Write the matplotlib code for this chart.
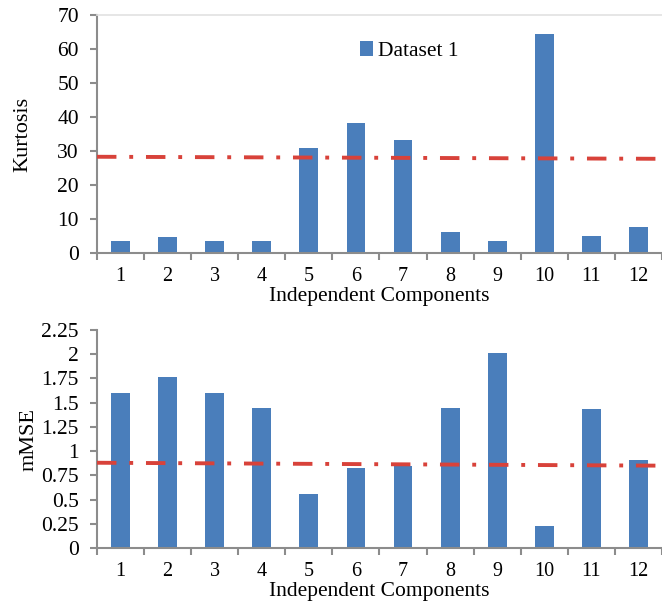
import numpy as np
import matplotlib
matplotlib.use('Agg')
from matplotlib import pyplot as plt

# ---- data ----
components = list(range(1, 13))
kurtosis = [3.5, 4.6, 3.5, 3.5, 31.0, 38.3, 33.3, 6.1, 3.5, 64.3, 5.0, 7.6]
kurt_thresh = [28.3, 27.7]       # dash-dot line, left end / right end
mmse = [1.60, 1.76, 1.60, 1.45, 0.56, 0.83, 0.85, 1.45, 2.01, 0.23, 1.44, 0.91]
mmse_thresh = [0.88, 0.85]

plt.rcParams['font.family'] = ['Liberation Serif', 'DejaVu Serif']

bar_color = '#4A7EBB'
line_color = '#D8423A'
axis_color = '#8C8C8C'

fig = plt.figure(figsize=(6.62, 6.05), dpi=100)
ax1 = fig.add_axes([0.1465, 0.5818, 0.8535, 0.3935])
ax2 = fig.add_axes([0.1465, 0.0942, 0.8535, 0.3603])

bar_index = np.arange(1, len(components) + 1)


def style_axis(ax, top_line):
    ax.set_xlim(0.5, 12.45)
    ax.set_xticks(bar_index)
    ax.set_xticklabels([str(c) for c in components], fontsize=14.5)
    ax.set_xticks(np.arange(0.5, 13.0, 1.0), minor=True)
    ax.tick_params(axis='x', which='major', length=0, pad=10)
    ax.tick_params(axis='x', which='minor', length=5, width=1.5,
                   color=axis_color, direction='out')
    ax.tick_params(axis='y', length=5, width=1.5, color=axis_color,
                   labelsize=15.5, pad=8)
    for s in ['left', 'bottom']:
        ax.spines[s].set_color(axis_color)
        ax.spines[s].set_linewidth(1.5)
    ax.spines['right'].set_visible(False)
    if top_line:
        ax.spines['top'].set_color('#E2E2E2')
        ax.spines['top'].set_linewidth(1.2)
    else:
        ax.spines['top'].set_visible(False)
    ax.set_xlabel('Independent Components', fontsize=15.5, labelpad=0.5)


# ---- top: kurtosis ----
ax1.bar(bar_index, kurtosis, 0.4, color=bar_color, label='Dataset 1', zorder=2)
ax1.plot([0.5, 12.5], kurt_thresh, color=line_color, lw=2.8,
         linestyle=(0, (5, 3.3, 1, 3.3)), dash_capstyle='butt', zorder=3)
ax1.set_ylim(0, 70)
ax1.set_yticks(np.arange(0, 71, 10))
ax1.set_ylabel('Kurtosis', fontsize=16, labelpad=18)
style_axis(ax1, True)
ax1.legend(loc=(0.458, 0.79), frameon=False, fontsize=15.5, handlelength=0.6,
           handleheight=0.7, handletextpad=0.25, borderpad=0.2)

# ---- bottom: mMSE ----
ax2.bar(bar_index, mmse, 0.4, color=bar_color, zorder=2)
ax2.plot([0.5, 12.5], mmse_thresh, color=line_color, lw=2.8,
         linestyle=(0, (5, 3.3, 1, 3.3)), dash_capstyle='butt', zorder=3)
ax2.set_ylim(0, 2.25)
ax2.set_yticks(np.arange(0, 2.26, 0.25))
ax2.set_yticklabels(['0', '0.25', '0.5', '0.75', '1', '1.25', '1.5', '1.75', '2', '2.25'])
ax2.set_ylabel('mMSE', fontsize=16, labelpad=2)
style_axis(ax2, False)

plt.savefig('out.png', dpi=100)
